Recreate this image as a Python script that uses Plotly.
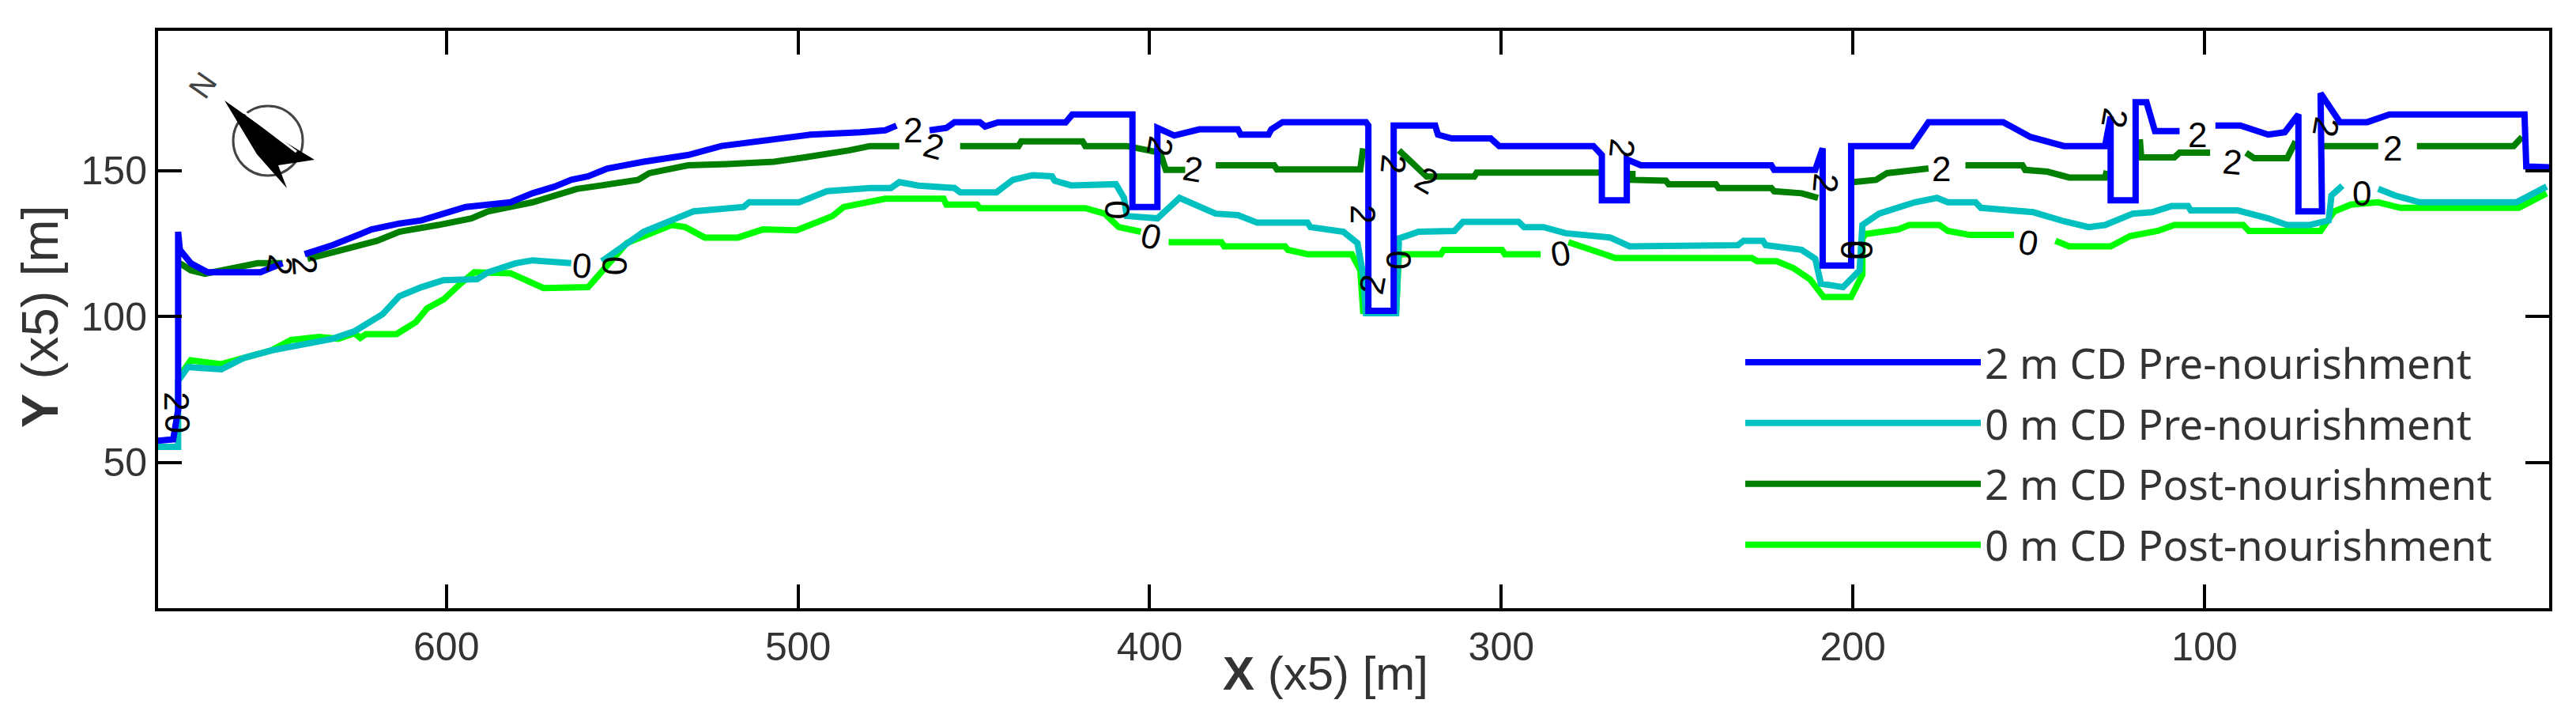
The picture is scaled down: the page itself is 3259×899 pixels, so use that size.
"""Shoreline contours before and after nourishment, with contour labels and compass."""
import plotly.graph_objects as go

W, H = 3259, 899
L, R, T, B = 200, 3225, 39, 769

X_RANGE = [682, 2]
Y_RANGE = [0, 198]
X_TICKS = [600, 500, 400, 300, 200, 100]
Y_TICKS = [50, 100, 150]

# 2 m CD pre-nourishment
blue_x = [682.1, 677.7, 676.3, 676.3, 675.8, 672.7, 667.9, 652.9, 646.6, None, 640.3, 632.4, 624.5, 621.3, 613.4,
          607.1, 600.8, 594.5, 581.8, 575.5, 569.2, 564.5, 559.7, 554.2, 543.9, 531.3, 521.8, 506, 496.5, 482.3,
          479.1, 475.2, 472, None, 462.6, 457.8, 455.5, 448.3, 446.8, 443.1, 423.9, 422, 404.9, 404.9, 397.8,
          397.8, 393, 385.9, 374.9, 374.1, 366.2, 365.4, 362.2, 338.5, 337.8, 337.8, 330.6, 330.6, 318.8, 318,
          314.1, 303, 300.6, 273.8, 271.4, 271.4, 264.3, 264.3, 260.3, 240.5, 223.2, 222.4, 210.7, 208.6, 208.6,
          200.5, 200.5, 183.2, 178.5, 157.3, 149.5, 140, 128.3, 126.7, 126.7, 119.6, 119.6, 116.5, 114.1, 107.1,
          None, 96.9, 89.8, 81.9, 77.2, 73.3, 73.3, 66.6, 67, 61.5, 53.7, 47.4, 31.7, 9, 8.5, 1.9]
blue_y = [57.4, 57.9, 68, 129.1, 122.9, 118.3, 115.2, 115.2, 118.3, None, 121.4, 124.5, 128.3, 129.9, 131.9,
          133, 135.3, 137.6, 139.2, 142.3, 144.6, 146.9, 148.1, 150.8, 153.1, 155.4, 158.5, 161.1, 162.4, 163.2,
          163.6, 163.9, 165.5, None, 163.9, 164.7, 166.7, 166.7, 165.2, 166.6, 166.6, 169.3, 169.3, 137.6, 137.6,
          164.7, 162.1, 164.2, 164.2, 162.4, 162.4, 164.2, 166.7, 166.7, 165.5, 102, 102, 165.5, 165.5, 162.4,
          161.1, 161.1, 158.5, 158.5, 155.4, 139.9, 139.9, 153.9, 151.9, 151.9, 151.9, 150.3, 150.3, 157.7, 117.5,
          117.5, 158.5, 158.5, 166.7, 166.7, 161.6, 158.5, 158.5, 168.6, 139.9, 139.9, 173.5, 173.5, 163.6, 163.6,
          None, 165.5, 165.5, 162.4, 163.2, 169.3, 136.1, 136.1, 176.6, 166.7, 166.7, 169.3, 169.3, 169.3, 151.5, 151.2]

# 0 m CD pre-nourishment
teal_x = [682.1, 676.3, 676.3, 673.5, 664, 657.7, 649.8, 641.1, 632.4, 626.1, 618.2, 613.4, 607.1, 600.8, 591.3,
          588.2, 580.3, 575.5, 564.5, None, 555.8, 550.2, 543.9, 536, 529.7, 515.5, 513.9, 499.7, 491.8, 479.5,
          473.6, 471.2, 465.7, 455.5, 453.9, 443.6, 438.9, 433.3, 427.8, 427, 422.3, 409.6, 407.3, 406.5, 397.8,
          391.5, 381.2, 374.9, 369.4, 355.1, 354.3, 344.9, 340.9, 339.3, 338.5, 329.9, 329.1, 323.5, 313.3, 310.9,
          295.1, 293.5, 288, 281.7, 269, 263.5, 233.5, 232.7, 231.1, 225.6, 224.8, 214.6, 210.7, 209.1, 202.8,
          198.1, 197.3, 192.6, 182.4, 176.1, 173, 165.1, 163.6, 155.7, 148.7, 140, 133, 128.3, 120.4, 114.9,
          109.4, 104.7, 103.9, 90.6, 81.9, 76.5, 70.2, 64.7, 63.9, 60.8, None, 50.6, 45.8, 38.8, 11.3, 2.7]
teal_y = [55.3, 55.3, 78, 82.7, 81.9, 85.8, 88.4, 90.4, 92.4, 95, 100.8, 107, 110.1, 112.5, 112.8,
          115.2, 118.3, 119.3, 118.3, None, 119, 123.7, 129.1, 133, 136.1, 137.6, 139.2, 139.2, 143, 144.1,
          144.1, 146.1, 144.9, 144.1, 142.6, 142.6, 146.9, 148.5, 148.1, 146.6, 145, 145.4, 140.7, 134.5, 133.7,
          140.7, 135.3, 134.8, 132.2, 132.2, 130.7, 129.1, 125.2, 114.4, 101.2, 101.2, 126.8, 129.1, 129.4, 132.5,
          132.5, 130.7, 130.7, 128.6, 127.1, 124.1, 124.1, 124.5, 126, 126, 124.5, 122.9, 119.8, 111.3, 110.1,
          115.9, 131.4, 135.3, 139.2, 140.7, 139.2, 139.2, 137.3, 136.4, 135.8, 132.7, 130.7, 131.4, 135.3, 135.8,
          137.9, 137.9, 136.4, 136.4, 133.7, 131.4, 131.4, 133, 141.5, 144.9, None, 143.8, 141.5, 139.2, 139.2, 144.6]

# 2 m CD post-nourishment
dark_x = [675.8, 672.7, 668.7, 657.7, 653.7, 646.6, None, 639.5, 632.4, 626.1, 619.7, 613.4, 602.4, 592.9, 588.2,
          575.5, 569.2, 562.9, 555.8, 545.5, 542.3, 536, 531.3, 520.2, 506.8, 498.1, 490.2, 485.5, 479.5,
          471.2, None, 453.9, 437.3, 436.5, 419.1, 418.3, 406.5, 397, 395.4, 389.9, None, 381.2, 364.6, 363.8,
          340.1, 339.3, None, 329.1, 321.2, 307.7, 307, 272.2, None, 262.7, 262.7, 253.2, 252.4, 239, 238.2,
          231.4, 223.2, 222.4, 214.6, 209.9, None, 200, 193.4, 190.3, 178.5, None, 168, 151.8, 151, 144.7, 138.5,
          128.3, 127.8, None, 118.4, 118, 108.6, 107.1, 98.4, None, 88.2, 85.9, 76.5, 74.1, None, 66.3, 50.6,
          None, 39.6, 12.1, 9.7]
dark_y = [118.3, 115.9, 114.7, 117.2, 118.3, 118.3, None, 119.8, 121.8, 124, 126, 129.1, 131.4, 133.7, 136.1,
          139.2, 141.5, 143.8, 145, 146.9, 149.2, 150.8, 151.9, 152.3, 153.1, 154.6, 155.9, 157, 158.5,
          158.5, None, 158.5, 158.5, 160.1, 160.1, 158.5, 158.5, 156.2, 150.3, 150.3, None, 151.9, 151.9, 150.5,
          150.5, 157.7, None, 157, 148, 148, 149.4, 149.4, None, 150, 146.9, 146.6, 145.4, 145.4, 144.1,
          144.1, 144.1, 143, 142.3, 140.7, None, 146.1, 146.9, 149.2, 150.8, None, 151.9, 151.9, 150.3, 149.7, 147.7,
          147.7, 150, None, 160.8, 154.6, 154.6, 156.2, 156.2, None, 156.2, 154.3, 154.3, 160.1, None, 158.5, 158.5,
          None, 158.5, 158.5, 161.6]

# 0 m CD post-nourishment
lime_x = [675, 672.7, 664, 649.8, 644.2, 636.3, 630.8, 626.1, 624.5, 622.9, 614.2, 608.7, 605.5, 600.8, 596,
          592.1, 581.8, 577.1, 572.4, 559.7, 556.6, 548.7, 536, 532.1, 526.5, 517.1, 510, 500.5, 494.9, 490.2,
          487, 479.5, 475.2, 458.6, 457.8, 449.1, 448.3, 418.3, 412.8, 408.8, 402.5, None, 394.6, 379.6, 378.8,
          361.5, 360.7, 355.1, 342.5, 340.1, 339.3, 329.9, 329.1, 317.2, 316.4, 299.8, 299, 288.8, None, 280.9,
          273.8, 267.5, 240.5, 228.7, 227.2, 221.7, 217, 212.2, 208.3, 200.5, 197.3, 197.3, 196.5, 187.1, 184,
          175.4, 173, 166.7, 154.2, None, 142.4, 138.5, 126.7, 121.2, 113.3, 108.6, 89, 87.4, 67, 63.1, 58.4,
          50.6, 44.3, 10.6, 2.7]
lime_y = [81.1, 85, 83.7, 88.4, 92, 93, 92.4, 94.3, 92.7, 94, 94, 98.1, 102.8, 105.9, 111.3,
          115.2, 114.9, 112.1, 109.8, 110.1, 114.4, 125.2, 131.4, 130.7, 127.1, 127.1, 129.9, 129.6, 132.2, 134.5,
          137.6, 139.2, 140.4, 140.4, 138.4, 138.4, 137.2, 137.2, 135.3, 130.7, 129.1, None, 125.5, 125.5, 124.1,
          124.1, 122.9, 121.4, 121.4, 115.9, 102, 102, 121.4, 121.4, 122.9, 122.9, 121.4, 121.4, None, 125.5,
          122.4, 120.1, 120.1, 120.1, 119, 119, 116.7, 112.8, 106.7, 106.7, 114.4, 126.8, 128.3, 129.9, 131.4,
          131.4, 129.4, 128, 128, None, 126, 124.1, 124.1, 127.6, 129.4, 131.4, 131.4, 129.4, 129.4, 136.1, 138.4,
          139.2, 137.3, 137.3, 142.3]

# contour labels: value, x, y, angle
label_text = ["2", "2", "0", "0", "2", "0", "2", "2", "2", "2", "0", "0", "2", "2", "0", "2", "2", "0", "2",
              "2", "0", "0", "2", "0", "2", "2", "2", "2", "0", "2"]
label_x = [647.4, 640.3, 561.6, 552.3, 676.6, 676.6, 467.3, 461.5, 397, 387.8, 409.2, 399.7, 339.3, 336.7,
           329.1, 330.6, 321.2, 283.3, 265.6, 207.8, 200, 198, 174.9, 150.2, 125.4, 102, 92.1, 65.5, 55.3, 46.6]
label_y = [117.8, 117.8, 117.5, 117.5, 71, 63.3, 163.9, 158.5, 158.5, 150.8, 136.8, 127.6, 135.3, 111,
           119.5, 152.3, 146.9, 121.7, 157.7, 145.7, 122.9, 122.9, 150.8, 125.5, 168.1, 162.4, 153.1, 165.2, 142.3, 157.7]
label_angle = [100, 85, 5, 90, 90, 90, 0, 15, 100, 10, 90, 15, 90, -80, 90, 95, 30, -10, 95, 95, 90, 90, 0,
               10, 100, 0, 5, 100, 0, 0]


def px(x, y):
    return (x - L) / (R - L), (B - y) / (B - T)


def path(points, close=True):
    parts = []
    for i, (x, y) in enumerate(points):
        a, b = px(x, y)
        parts.append(("M" if i == 0 else "L") + f"{a:.5f},{b:.5f}")
    return " ".join(parts) + (" Z" if close else "")


fig = go.Figure()
series = [
    ("0 m CD Post-nourishment", lime_x, lime_y, "#00ff00", 4),
    ("2 m CD Post-nourishment", dark_x, dark_y, "#007f00", 3),
    ("0 m CD Pre-nourishment", teal_x, teal_y, "#00c0c0", 2),
    ("2 m CD Pre-nourishment", blue_x, blue_y, "#0000ff", 1),
]
for name, xs, ys, color, rank in series:
    fig.add_trace(go.Scatter(x=xs, y=ys, mode="lines", name=name, legendrank=rank, legendgroup=name,
                             line=dict(color=color, width=8)))

annotations = [
    dict(text=t, x=x, y=y, textangle=a, showarrow=False, xref="x", yref="y",
         font=dict(family="Liberation Sans", size=44, color="#000000"))
    for t, x, y, a in zip(label_text, label_x, label_y, label_angle)
]
# axis titles and the N of the compass
annotations += [
    dict(text="<b>X</b> (x5) [m]", x=px(1677, 0)[0], y=px(0, 852)[1], xref="paper", yref="paper", showarrow=False,
         xanchor="center", yanchor="middle", font=dict(family="Liberation Sans", size=60, color="#333333")),
    dict(text="<b>Y</b> (x5) [m]", x=px(50, 0)[0], y=px(0, 400)[1], xref="paper", yref="paper", showarrow=False,
         xanchor="center", yanchor="middle", textangle=-90,
         font=dict(family="Liberation Sans", size=65, color="#333333")),
    dict(text="N", x=px(256, 0)[0], y=px(0, 108)[1], xref="paper", yref="paper", showarrow=False,
         xanchor="center", yanchor="middle", textangle=-55,
         font=dict(family="Liberation Sans", size=40, color="#444444")),
]

shapes = [
    dict(type="circle", xref="paper", yref="paper", line=dict(color="#444444", width=3),
         x0=px(295, 0)[0], x1=px(383, 0)[0], y0=px(0, 222)[1], y1=px(0, 134)[1]),
    dict(type="path", xref="paper", yref="paper", line=dict(width=0), fillcolor="#000000",
         path=path([(284, 127), (345, 170), (398, 202), (352, 209), (363, 238), (325, 195)])),
    dict(type="path", xref="paper", yref="paper", line=dict(color="#ffffff", width=3),
         path=path([(300, 135), (375, 192)], close=False)),
]

fig.update_layout(
    width=W, height=H, autosize=False,
    margin=dict(l=L, r=W - R, t=T, b=H - B),
    paper_bgcolor="white", plot_bgcolor="white",
    font=dict(family="Liberation Sans", color="#333333"),
    annotations=annotations, shapes=shapes,
    legend=dict(x=px(2203, 0)[0], y=px(0, 417)[1], xanchor="left", yanchor="top", bgcolor="rgba(0,0,0,0)",
                itemwidth=298, tracegroupgap=5, font=dict(family="Noto Sans", size=53, color="#333333")),
)
axis_style = dict(showgrid=False, zeroline=False, showline=True, linecolor="black", linewidth=4,
                  mirror="allticks", ticks="inside", ticklen=30, tickwidth=4, tickcolor="black",
                  tickfont=dict(family="Liberation Sans", size=50, color="#333333"))
fig.update_xaxes(range=X_RANGE, tickvals=X_TICKS, ticklabelstandoff=2, **axis_style)
fig.update_yaxes(range=Y_RANGE, tickvals=Y_TICKS, ticklabelstandoff=0, **axis_style)

fig.write_html("out.html", config={"displayModeBar": False}, post_script="document.body.style.margin='0';")
